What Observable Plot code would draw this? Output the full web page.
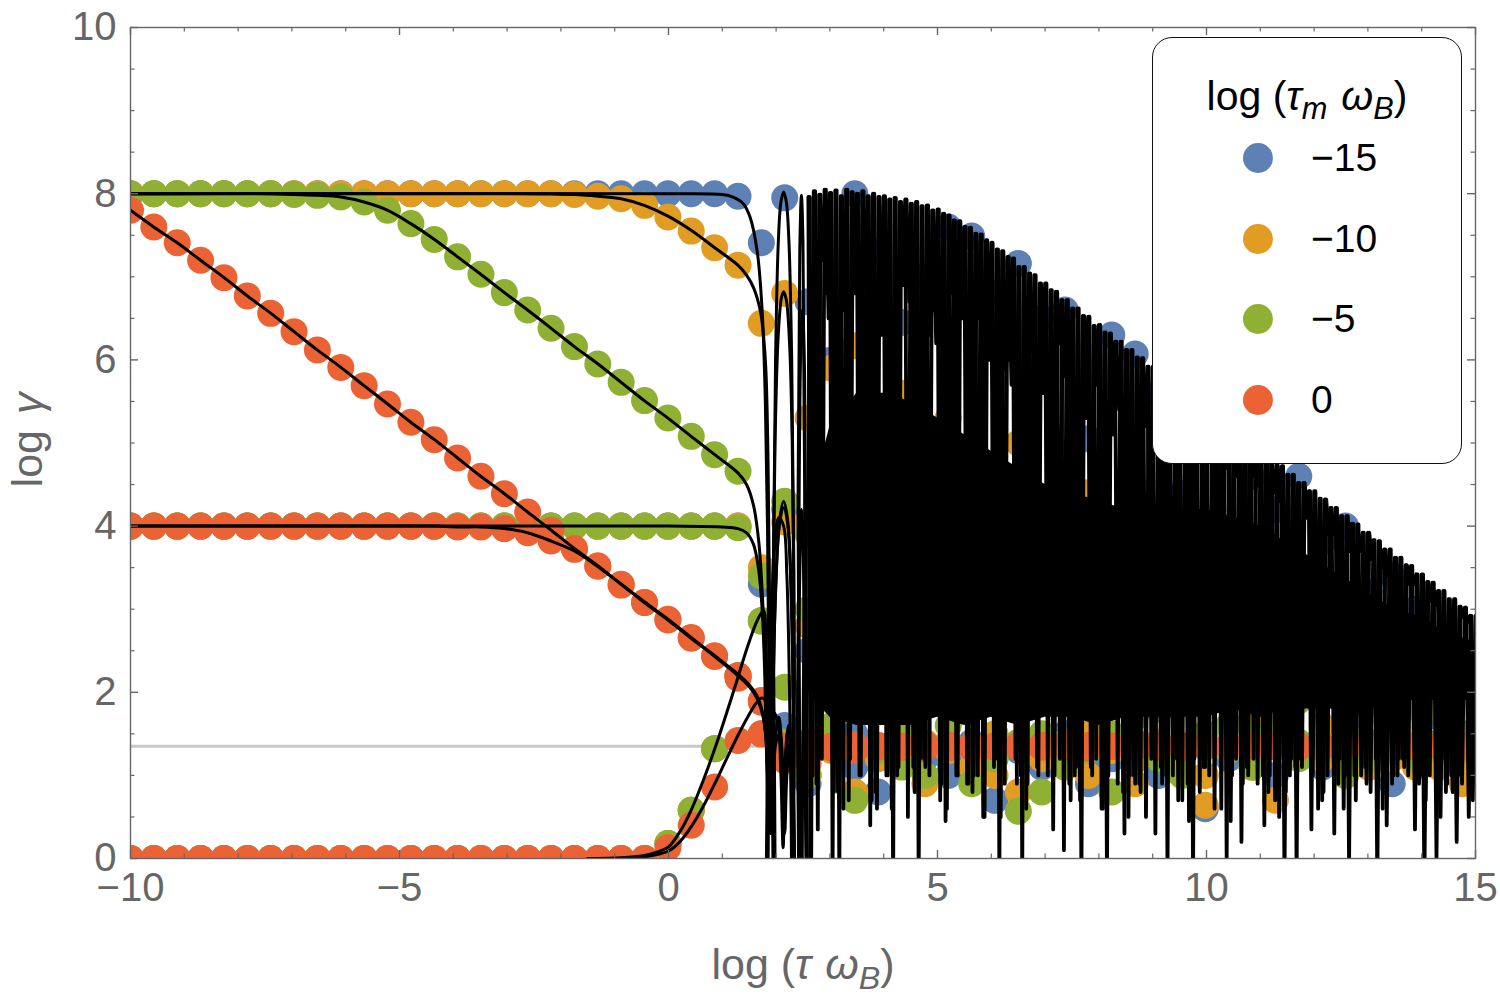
<!DOCTYPE html>
<html>
<head>
<meta charset="utf-8">
<script src="https://cdn.jsdelivr.net/npm/d3@7"></script>
<script src="https://cdn.jsdelivr.net/npm/@observablehq/plot@0.6"></script>
<style>
  html,body{margin:0;padding:0;background:#fff;}
  #wrap{position:relative;width:1500px;height:995px;font-family:"Liberation Sans",Arial,Helvetica,sans-serif;overflow:hidden;}
  #wrap svg{position:absolute;left:0;top:0;}
  .xlab{position:absolute;left:803px;top:943px;transform:translateX(-50%);font-size:43px;line-height:43px;color:#666;white-space:nowrap;}
  .ylab{position:absolute;left:27px;top:440px;transform:translate(-50%,-50%) rotate(-90deg);font-size:43px;line-height:43px;color:#666;white-space:nowrap;word-spacing:4px;}
  sub{font-size:0.75em;vertical-align:-0.3em;line-height:0;}
  .gap{display:inline-block;width:14px;}
  .legend{position:absolute;left:1152px;top:37px;width:308px;height:425px;border:1.6px solid #111;border-radius:20px;background:#fff;color:#000;}
  .ltitle{position:absolute;left:0;width:100%;top:38px;text-align:center;font-size:41px;line-height:41px;white-space:nowrap;}
  .ldot{position:absolute;width:30px;height:30px;border-radius:50%;left:90px;}
  .llab{position:absolute;left:158px;font-size:39px;line-height:40px;white-space:nowrap;}
</style>
</head>
<body>
<div id="wrap"></div>
<script>
// ---------- data ----------
const xGrid = [-10,-9.566,-9.131,-8.697,-8.263,-7.829,-7.394,-6.96,-6.526,-6.091,-5.657,-5.223,-4.788,-4.354,-3.92,-3.486,-3.051,-2.617,-2.183,-1.748,-1.314,-0.88,-0.445,-0.011,0.423,0.857,1.292,1.726,2.16,2.595,3.029,3.463,3.897,4.332,4.766,5.2,5.635,6.069,6.503,6.937,7.372,7.806,8.24,8.675,9.109,9.543,9.977,10.412,10.846,11.28,11.715,12.149,12.583,13.017,13.452,13.886,14.32,14.755];

const tmKeys = ["\u221215","\u221210","\u22125","0"];
const tmColors = ["#5E81B5","#E19C24","#8FB032","#EB6235"];

const blue8 = [8,8,8,8,8,8,8,8,8,8, 8,8,8,8,8,8,8,8,8,8, 8,8,8,8,8,8, 7.97,
  7.41,7.95,6.7,6.0,8.0,7.3,6.45,7.0,7.6,7.49, 6.8,7.16,6.5,6.6,5.05,6.3,6.07,5.6,4.4,5.4, 4.9,4.6,4.2,4.6,3.8,4.0,3.2,3.4,1.78,1.14,2.5];
const blue4 = [4,4,4,4,4,4,4,4,4,4, 4,4,4,4,4,4,4,4,4,4, 4,4,4,4,4,4,4,
  3.3,4.2,2.5,3.8,1.5,3.2,2.0,3.6,1.2,2.8, 3.5,1.8,2.6,3.9,1.1,4.0,3.0,2.2,3.3,4.0, 2.9,3.7,1.9,2.5,3.1,1.6,2.7,2.0,3.0,1.7,1.24];
const blue0 = [0,0,0,0,0,0,0,0,0,0, 0,0,0,0,0,0,0,0,0,0, 0,0,0,
  0.18,0.58,1.32,2.2,2.86, 1.6,0.9,1.4,1.1,0.8,1.5,1.2,1.0,1.4,0.7, 1.3,1.1,1.5,0.9,1.2,1.4,1.0,1.3,0.6,1.2, 1.4,1.0,1.3,1.1,1.4,1.2,0.9,1.3,1.2,1.4];
const orange8 = [8,8,8,8,8,8,8,8,8,8, 8,8,8,8,8,8,8,8,8,
  7.99,7.97,7.94,7.86,7.72,7.55,7.35,7.14,
  6.44,6.8,5.3,5.9,6.17,4.9,5.6,4.2,5.3,4.6, 3.8,5.0,4.1,3.5,4.4,2.9,3.6,3.2,2.6,3.0, 2.3,2.7,1.9,2.2,1.6,1.8,1.3,1.5,1.1,1.3,0.9];
const orange4 = [4,4,4,4,4,4,4,4,4,4, 4,4,4,4,4,4,4,4,4,4, 4,4,4,4,4,4,4,
  3.5,4.05,2.8,1.9,4.0,3.0,2.3,1.4,3.4,2.6, 1.0,3.8,2.0,2.9,1.5,3.3,1.18,2.4,3.0,0.64, 2.2,1.7,2.8,1.3,2.5,1.9,1.1,2.1,1.5,2.7,1.2];
const orange0 = [0,0,0,0,0,0,0,0,0,0, 0,0,0,0,0,0,0,0,0,0, 0,0,0,
  0.18,0.58,1.32,2.2,2.86, 1.2,1.0,1.3,0.8,1.2,1.4,0.9,1.3,1.1,1.5, 0.8,1.2,1.4,1.0,1.3,0.9,1.4,1.2,1.0,1.3, 1.1,0.7,1.3,1.2,1.0,1.4,1.2,1.3,1.1,1.3];
const green8 = [8,8,8,8,8,8,8,
  7.99,7.98,7.96,7.9,7.8,7.64,7.45,7.24,7.03,6.81, 6.6,6.38,6.16,5.95,5.73,5.51,5.3,5.08,4.86,4.66,
  1.5,4.3,3.0,1.6,3.6,2.4,1.1,3.2,2.0,2.7, 1.2,3.5,0.8,2.2,2.9,1.5,2.5,1.8,1.3,2.0, 1.6,1.2,1.7,1.4,1.3,1.5,1.2,1.4,1.3,1.3,1.35];
const green4 = [4,4,4,4,4,4,4,4,4,4, 4,4,4,4,4,4,4,4,4,4, 4,4,4,4,4,4, 3.98,
  3.4,2.06,3.9,2.5,3.0,1.3,3.7,2.1,1.6,3.3, 2.6,1.4,3.1,1.9,2.4,3.5,1.7,2.8,1.1,2.3, 3.0,1.5,2.6,1.9,2.2,1.2,2.0,1.6,2.3,1.8,1.5];
const green0 = [0,0,0,0,0,0,0,0,0,0, 0,0,0,0,0,0,0,0,0,0, 0,0,0,
  0.18,0.58,1.32,2.2,2.86, 1.4,1.0,1.5,0.7,1.3,1.6,1.0,1.4,0.9,1.2, 0.57,1.5,1.1,1.3,0.8,1.4,1.2,1.0,1.5,1.3, 1.1,1.4,1.2,1.3,1.0,1.4,1.3,1.2,1.4,1.3];
const red8 = [7.8,7.6,7.41,7.2,6.99,6.77,6.56,6.34,6.12,5.91, 5.69,5.47,5.25,5.04,4.82,4.6,4.39,4.17,3.95,3.73,
  3.52,3.3,3.08,2.87,2.65,2.43,2.17,1.9,1.35,1.36, 1.35,1.3,1.36,1.34,1.35,1.37,1.33,1.35,1.36,1.34,
  1.35,1.36,1.35,1.33,1.35,1.36,1.34,1.35,1.36,1.35, 1.34,1.35,1.36,1.35,1.34,1.35,1.36,1.35];
const red4 = [4,4,4,4,4,4,4,4,4,4, 4,4,4,4,
  3.99,3.99,3.97,3.92,3.82,3.72, 3.52,3.29,3.08,2.88,2.66,2.44,2.2,1.88,1.3,1.4,
  1.33,1.37,1.34,1.35,1.38,1.33,1.35,1.36,1.34,1.35, 1.37,1.33,1.35,1.36,1.34,1.35,1.36,1.34,1.35,1.37,
  1.35,1.33,1.35,1.36,1.35,1.34,1.35,1.36];
const red0 = [0,0,0,0,0,0,0,0,0,0, 0,0,0,0,0,0,0,0,0,0, 0,0,0,
  0.13,0.4,0.86,1.42,1.5,1.18,1.14, 1.35,1.34,1.36,1.35,1.33,1.35,1.36,1.34,1.35,1.36,
  1.35,1.34,1.35,1.36,1.35,1.33,1.35,1.36,1.35,1.34, 1.35,1.36,1.35,1.34,1.35,1.36,1.35,1.34];

const eqLevel = 1.35;

// smooth black reference curves (log tau, log gamma) up to the onset of fast oscillation
const curveBlue8 = [[-10,8],[-5,8],[0,8],[1.0,7.99],[1.2,7.96],[1.39,7.88],[1.52,7.71],[1.65,7.3],[1.74,6.6],[1.8,5.5],[1.84,4.0],[1.87,2.0],[1.9,-1.5],[1.92,-1.5],[1.95,3.5],[1.99,6.0],[2.04,7.4],[2.09,7.9],[2.14,8.02],[2.19,7.9],[2.24,7.4],[2.29,6.0],[2.33,3.5],[2.36,-1.5],[2.38,-1.5],[2.41,4.5],[2.44,7.3],[2.47,7.98],[2.5,7.4],[2.53,4.5],[2.55,-1.5],[2.57,-1.5],[2.6,5.0],[2.63,7.95]];
const curveOrange8 = [[-10,8],[-3,8],[-2.18,7.995],[-1.75,7.99],[-1.31,7.97],[-0.88,7.94],[-0.45,7.86],[-0.01,7.73],[0.42,7.56],[0.86,7.35],[1.29,7.14],[1.45,7.02],[1.58,6.87],[1.71,6.58],[1.8,6.0],[1.85,4.8],[1.88,3.0],[1.91,0.6],[1.94,3.0],[1.98,5.0],[2.04,6.3],[2.1,6.75],[2.14,6.82],[2.19,6.72],[2.25,6.2],[2.3,5.0],[2.34,2.5],[2.37,-1.5],[2.39,-1.5],[2.42,3.5],[2.46,6.2],[2.49,6.6],[2.53,5.8],[2.56,3.0],[2.59,-1]];
const curveGreen8 = [[-10,8],[-7.4,8.0],[-6.96,7.99],[-6.53,7.98],[-6.09,7.96],[-5.66,7.9],[-5.22,7.8],[-4.79,7.64],[-4.35,7.45],[-3.92,7.24],[-3.49,7.03],[-3.05,6.81],[-2.62,6.6],[-2.18,6.38],[-1.75,6.16],[-1.31,5.95],[-0.88,5.73],[-0.45,5.51],[-0.01,5.3],[0.42,5.08],[0.86,4.86],[1.29,4.64],[1.45,4.5],[1.58,4.25],[1.68,3.8],[1.75,3.1],[1.8,2.2],[1.84,1.0],[1.87,-1.5],[1.9,-1.5],[1.94,1.8],[2.0,3.4],[2.07,4.1],[2.14,4.3],[2.21,4.1],[2.27,3.4],[2.32,1.8],[2.35,-1.5],[2.37,-1.5],[2.4,2.0],[2.44,3.9],[2.47,4.2],[2.51,3.5],[2.54,1.0],[2.57,-1]];
const curveRed8 = [[-10,7.8],[-9.57,7.6],[-9.13,7.41],[-8.7,7.2],[-8.26,6.99],[-7.83,6.77],[-7.39,6.56],[-6.96,6.34],[-6.53,6.12],[-6.09,5.91],[-5.66,5.69],[-5.22,5.47],[-4.79,5.25],[-4.35,5.04],[-3.92,4.82],[-3.49,4.6],[-3.05,4.39],[-2.62,4.17],[-2.18,3.95],[-1.75,3.73],[-1.31,3.52],[-0.88,3.3],[-0.45,3.08],[-0.01,2.87],[0.42,2.65],[0.86,2.43],[1.29,2.2],[1.5,2.07],[1.65,1.92],[1.76,1.7],[1.83,1.3],[1.87,0.67],[1.91,1.3],[1.97,1.75],[2.04,1.6],[2.09,1.0],[2.13,0.13],[2.17,1.0],[2.23,1.6],[2.29,1.4],[2.33,0.5],[2.36,-1]];
const curveFlat4 = [[-10,4],[-5,4],[0,4],[1.0,3.99],[1.29,3.97],[1.45,3.92],[1.58,3.78],[1.67,3.5],[1.74,3.0],[1.79,2.2],[1.83,1.0],[1.86,-1.5],[1.89,-1.5],[1.93,1.5],[1.99,3.2],[2.06,4.0],[2.14,4.22],[2.22,4.0],[2.28,3.2],[2.33,1.5],[2.36,-1.5],[2.38,-1.5],[2.41,1.8],[2.45,3.7],[2.48,4.1],[2.52,3.4],[2.55,1.0],[2.58,-1]];
const curveRed4 = [[-10,4],[-4.79,4.0],[-4.35,4.0],[-3.92,3.99],[-3.49,3.99],[-3.05,3.97],[-2.62,3.92],[-2.18,3.82],[-1.75,3.7],[-1.31,3.51],[-0.88,3.3],[-0.45,3.09],[-0.01,2.88],[0.42,2.66],[0.86,2.44],[1.29,2.22],[1.5,2.09],[1.65,1.95],[1.75,1.75],[1.82,1.4],[1.86,0.9],[1.9,0.3],[1.94,0.9],[2.0,1.4],[2.07,1.5],[2.12,1.0],[2.16,0.3],[2.2,1.0],[2.26,1.4],[2.31,1.0],[2.35,-0.5]];
const curveRise0 = [[-1.5,0.0],[-1.0,0.005],[-0.5,0.03],[-0.2,0.08],[0.0,0.14],[0.21,0.32],[0.42,0.58],[0.64,0.93],[0.86,1.32],[1.08,1.75],[1.29,2.18],[1.47,2.55],[1.62,2.82],[1.72,2.95],[1.77,2.98],[1.81,2.6],[1.84,1.5],[1.86,0.67],[1.88,1.5],[1.92,3.0],[1.98,3.8],[2.05,4.1],[2.14,4.0],[2.2,3.4],[2.25,2.0],[2.28,0.5],[2.3,-1.5]];
const curveRedRise0 = [[-1.5,0.0],[-0.6,0.01],[-0.2,0.05],[0.0,0.09],[0.21,0.2],[0.42,0.38],[0.64,0.62],[0.86,0.9],[1.08,1.2],[1.29,1.48],[1.47,1.7],[1.62,1.86],[1.72,1.93],[1.78,1.92],[1.83,1.7],[1.87,1.2],[1.91,0.4],[1.94,0.9],[1.99,1.5],[2.05,1.7],[2.1,1.4],[2.14,0.6],[2.17,1.2],[2.22,1.55],[2.27,1.3],[2.3,0.3]];

// fast-oscillation regime: crests and troughs sampled every 0.1 in log tau from 2.6
const oscStart = 2.6, oscStep = 0.1;
const oscCrest = [7.96,8.03,7.99,8.05,8.01,8.04,7.97,8.05,8.02,8.0,
  8.03,7.97,8.0,7.96,7.97,7.93,7.95,7.9,7.93,7.88,
  7.9,7.85,7.86,7.8,7.81,7.76,7.74,7.68,7.67,7.6,
  7.59,7.52,7.51,7.44,7.41,7.33,7.31,7.24,7.22,7.12,
  7.12,7.04,7.02,6.92,6.92,6.84,6.82,6.72,6.72,6.62,
  6.62,6.53,6.52,6.41,6.42,6.33,6.32,6.22,6.22,6.12,
  6.12,6.03,6.02,5.92,5.92,5.83,5.82,5.71,5.72,5.63,
  5.62,5.52,5.52,5.42,5.42,5.33,5.32,5.22,5.22,5.12,
  5.12,5.03,5.02,4.92,4.92,4.82,4.82,4.73,4.72,4.62,
  4.62,4.52,4.52,4.42,4.42,4.33,4.32,4.22,4.22,4.12,
  4.12,4.03,4.02,3.92,3.92,3.83,3.82,3.72,3.72,3.62,
  3.62,3.53,3.52,3.42,3.42,3.33,3.32,3.22,3.22,3.12,
  3.12,3.03,3.02,2.92,2.92];
const troughA = [-0.5,0.9,1.2,6.8,-0.2,0.8,0.6,0.7,7.0,1.0,
  3.4,0.4,0.8,6.5,1.0,0.6,1.0,7.2,0.5,1.1,
  -0.4,1.2,1.0,6.6,0.7,0.45,3.3,1.0,6.9,0.9,
  0.8,1.0,0.5,6.4,1.1,-0.2,0.9,6.0,1.2,1.0,
  0.6,3.3,1.1,5.9,1.0,0.35,6.2,0.1,0.9,1.0,
  0.7,5.6,1.1,1.2,0.6,-0.3,5.5,0.9,0.8,0.5,
  1.0,0.9,5.2,2.9,0.3,1.1,1.0,5.0,1.2,0.7,
  0.9,-0.2,4.9,1.1,1.0,0.6,3.0,4.7,0.45,1.2,
  0.2,1.1,4.6,0.9,1.0,0.8,4.4,0.5,-0.3,1.0,
  1.1,1.2,4.15,0.35,2.8,0.7,1.0,3.9,0.9,0.6,
  -0.1,1.0,3.7,1.1,0.8,1.2,3.5,0.4,0.9,1.0,
  1.2,1.0,3.3,0.9,-0.3,1.0,3.05,0.5,0.8,1.0,
  0.2,0.9,2.85,0.7,0.6];
const troughB = [1.0,0.35,7.2,6.5,0.8,-0.3,6.6,1.2,6.8,1.0,
  6.9,0.7,0.6,6.3,1.0,-0.4,1.1,6.9,6.7,0.8,
  1.2,1.1,6.3,6.2,0.9,0.6,6.8,1.0,6.5,0.9,
  1.0,6.5,0.5,6.0,1.2,0.5,5.9,5.7,0.9,-0.2,
  0.9,6.1,1.0,5.6,3.3,1.0,1.2,5.8,0.7,1.1,
  -0.3,5.3,1.0,5.7,0.6,1.0,5.1,5.4,0.3,1.0,
  0.9,0.8,0.5,1.2,5.1,0.9,-0.2,1.0,0.7,4.9,
  0.45,1.2,0.8,1.1,4.8,2.9,0.6,0.0,1.0,4.6,
  0.9,1.0,1.2,4.5,0.4,1.0,0.7,4.3,0.8,1.2,
  -0.2,1.1,4.1,1.0,0.6,0.8,3.9,0.3,1.2,1.0,
  3.7,0.7,1.0,0.9,3.6,-0.3,0.6,3.4,1.0,1.2,
  1.1,3.3,0.35,1.0,0.7,3.1,0.0,1.2,0.9,0.8,
  1.0,2.9,0.5,1.1,1.2];
// band that the oscillations fill solidly
const coreX = [2.6,3.0,3.5,4.0,4.5,5.0,5.5,6.0,6.5,7.0,7.5,8.0,8.5,9.0,9.5,10.0,10.5,11.0,11.5,12.0,12.5,13.0,13.5,14.0,14.5,15.0];
const coreHigh = [4.2,5.2,5.6,5.6,5.5,5.3,5.1,4.9,4.7,4.5,4.4,4.3,4.2,4.2,4.2,4.2,4.1,4.0,3.8,3.6,3.4,3.2,3.0,2.9,2.7,2.6];
const coreLow = [2.0,1.7,1.6,1.6,1.6,1.7,1.6,1.7,1.6,1.7,1.7,1.6,1.7,1.7,1.7,1.7,1.8,1.7,1.8,1.8,1.8,1.8,1.9,1.9,1.9,1.9];

// axis ticks
const xMajor = [-10,-5,0,5,10,15];
const xTickLabels = ["\u221210","\u22125","0","5","10","15"];
const xMinor = [-9,-8,-7,-6,-4,-3,-2,-1,1,2,3,4,6,7,8,9,11,12,13,14];
const yMajor = [0,2,4,6,8,10];
const yTickLabels = ["0","2","4","6","8","10"];
const yMinor = [0.5,1,1.5,2.5,3,3.5,4.5,5,5.5,6.5,7,7.5,8.5,9,9.5];

// ---------- checks ----------
const checks = {blue8,blue4,blue0,orange8,orange4,orange0,green8,green4,green0,red8,red4,red0};
for (const [k,v] of Object.entries(checks)) if (v.length !== xGrid.length) throw new Error(k + " has " + v.length);
if (troughA.length !== oscCrest.length || troughB.length !== oscCrest.length) throw new Error("osc lengths " + oscCrest.length + " " + troughA.length + " " + troughB.length);
if (coreHigh.length !== coreX.length || coreLow.length !== coreX.length) throw new Error("core lengths");

// ---------- build tables ----------
const groups = [[tmKeys[0],blue8],[tmKeys[0],blue4],[tmKeys[0],blue0],
                [tmKeys[1],orange8],[tmKeys[1],orange4],[tmKeys[1],orange0],
                [tmKeys[2],green8],[tmKeys[2],green4],[tmKeys[2],green0],
                [tmKeys[3],red8],[tmKeys[3],red4],[tmKeys[3],red0]];
const dots = [];
groups.forEach(([key, vals]) => vals.forEach((v, k) => dots.push({x: xGrid[k], y: v, key})));

const pts = arr => arr.map(([x, y]) => ({x, y}));
const oscA = [], oscB = [];
oscCrest.forEach((c, i) => {
  const x = oscStart + oscStep * i;
  oscA.push({x, y: c}, {x: x + oscStep / 2, y: troughA[i]});
  oscB.push({x: x + oscStep / 4, y: c}, {x: x + 3 * oscStep / 4, y: troughB[i]});
});
const core = coreX.map((x, i) => ({x, lo: coreLow[i], hi: coreHigh[i]}));

const W = 1500, H = 995, ML = 130, MR = 25, MT = 27, MB = 137;
const FW = W - ML - MR, FH = H - MT - MB;
const FONT = '"Liberation Sans", Arial, Helvetica, sans-serif';
const GRAY = "#666";

const smooth = [curveBlue8, curveOrange8, curveGreen8, curveRed8, curveFlat4, curveRed4, curveRise0, curveRedRise0]
  .map(c => Plot.line(pts(c), {x: "x", y: "y", stroke: "black", strokeWidth: 3, curve: "catmull-rom", clip: true}));

const chart = Plot.plot({
  width: W, height: H,
  marginLeft: ML, marginRight: MR, marginTop: MT, marginBottom: MB,
  x: {domain: [-10, 15], axis: null},
  y: {domain: [0, 10], axis: null},
  color: {domain: tmKeys, range: tmColors},
  style: {background: "white", fontFamily: FONT},
  marks: [
    Plot.ruleY([eqLevel], {stroke: "#c8c8c8", strokeWidth: 3}),
    Plot.dot(dots, {x: "x", y: "y", r: 13.5, fill: "key", clip: true}),
    Plot.areaY(core, {x: "x", y1: "lo", y2: "hi", fill: "black", clip: true}),
    Plot.line(oscA, {x: "x", y: "y", stroke: "black", strokeWidth: 3.8, strokeLinejoin: "round", clip: true}),
    Plot.line(oscB, {x: "x", y: "y", stroke: "black", strokeWidth: 3.8, strokeLinejoin: "round", clip: true}),
    ...smooth,
    Plot.frame({stroke: GRAY, strokeWidth: 1.4}),
    Plot.ruleX(xMajor, {x: d => d, stroke: GRAY, strokeWidth: 1.4, insetTop: FH - 8}),
    Plot.ruleX(xMajor, {x: d => d, stroke: GRAY, strokeWidth: 1.4, insetBottom: FH - 8}),
    Plot.ruleX(xMinor, {x: d => d, stroke: GRAY, strokeWidth: 1.2, insetTop: FH - 4.5}),
    Plot.ruleX(xMinor, {x: d => d, stroke: GRAY, strokeWidth: 1.2, insetBottom: FH - 4.5}),
    Plot.ruleY(yMajor, {y: d => d, stroke: GRAY, strokeWidth: 1.4, insetRight: FW - 8}),
    Plot.ruleY(yMajor, {y: d => d, stroke: GRAY, strokeWidth: 1.4, insetLeft: FW - 8}),
    Plot.ruleY(yMinor, {y: d => d, stroke: GRAY, strokeWidth: 1.2, insetRight: FW - 4.5}),
    Plot.ruleY(yMinor, {y: d => d, stroke: GRAY, strokeWidth: 1.2, insetLeft: FW - 4.5}),
    Plot.text(xMajor, {x: d => d, text: (d, i) => xTickLabels[i], frameAnchor: "bottom", dy: 42, fontSize: 40, fill: GRAY, fontFamily: FONT}),
    Plot.text(yMajor, {y: d => d, text: (d, i) => yTickLabels[i], frameAnchor: "left", textAnchor: "end", dx: -14, fontSize: 40, fill: GRAY, fontFamily: FONT})
  ]
});

const wrap = document.getElementById("wrap");
wrap.appendChild(chart);

// axis labels
const xl = document.createElement("div");
xl.className = "xlab";
xl.innerHTML = 'log (<i>\u03C4</i><span class="gap"></span><i>\u03C9</i><sub><i>B</i></sub>)';
wrap.appendChild(xl);
const yl = document.createElement("div");
yl.className = "ylab";
yl.innerHTML = 'log <i>\u03B3</i>';
wrap.appendChild(yl);

// legend
const lg = document.createElement("div");
lg.className = "legend";
const lt = document.createElement("div");
lt.className = "ltitle";
lt.innerHTML = 'log (<i>\u03C4</i><sub><i>m</i></sub><span class="gap"></span><i>\u03C9</i><sub><i>B</i></sub>)';
lg.appendChild(lt);
const rowY = [120, 201, 281, 362];
tmKeys.forEach((k, i) => {
  const d = document.createElement("div");
  d.className = "ldot";
  d.style.top = (rowY[i] - 15) + "px";
  d.style.background = tmColors[i];
  lg.appendChild(d);
  const t = document.createElement("div");
  t.className = "llab";
  t.style.top = (rowY[i] - 20) + "px";
  t.textContent = k;
  lg.appendChild(t);
});
wrap.appendChild(lg);
</script>
</body>
</html>
